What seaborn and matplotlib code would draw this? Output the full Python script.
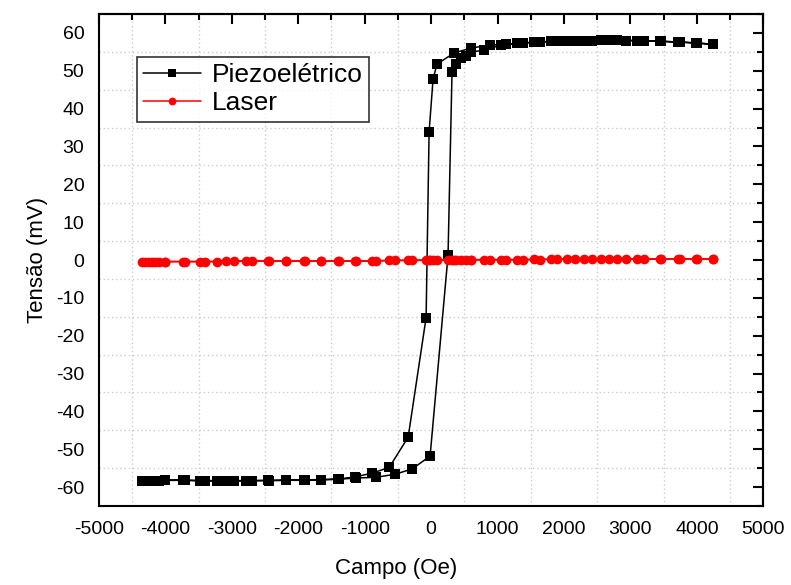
import numpy as np
import pandas as pd
import matplotlib
matplotlib.use("Agg")
import matplotlib.pyplot as plt
from matplotlib.ticker import MultipleLocator
import seaborn as sns

# Field (Oe), descending branch then ascending branch
campo_desc = [4250, 3980, 3720, 3460, 3200, 2940, 2680, 2420, 2160, 1900,
              1640, 1380, 1120, 885, 600, 345, 90, 30, -30, -75,
              -345, -630, -885, -1140, -1400, -1660, -1920, -2180, -2440, -2700,
              -2960, -3220, -3480, -3740, -4000, -4150, -4250, -4350]
piezo_desc = [57.0, 57.4, 57.6, 57.8, 57.9, 58.0, 58.1, 58.0, 57.9, 57.8,
              57.6, 57.3, 57.0, 56.8, 56.0, 54.7, 51.8, 47.9, 33.9, -15.2,
              -46.8, -54.8, -56.3, -57.3, -57.9, -58.1, -58.2, -58.2, -58.3, -58.3,
              -58.3, -58.3, -58.3, -58.2, -58.2, -58.3, -58.3, -58.3]

campo_asc = [-4300, -4200, -4100, -4000, -3700, -3400, -3080, -2780, -2460, -2180,
             -1905, -1650, -1380, -1125, -825, -540, -285, -15, 255, 315,
             375, 450, 525, 600, 795, 1050, 1300, 1550, 1800, 2050,
             2300, 2550, 2800, 3100, 3450, 3750, 4000, 4250]
piezo_asc = [-58.3, -58.3, -58.3, -58.2, -58.2, -58.3, -58.3, -58.3, -58.2, -58.2,
             -58.1, -58.0, -57.9, -57.6, -57.4, -56.6, -55.2, -51.8, 1.2, 49.7,
             51.8, 53.4, 53.9, 55.0, 55.4, 56.8, 57.3, 57.6, 57.8, 57.9,
             58.0, 58.1, 58.1, 58.0, 57.8, 57.6, 57.3, 57.0]

laser_desc = [0.3, 0.3, 0.3, 0.3, 0.2, 0.2, 0.2, 0.2, 0.2, 0.2,
              0.1, 0.1, 0.1, 0.1, 0.1, 0.1, 0.0, 0.0, 0.0, -0.1,
              -0.1, -0.1, -0.2, -0.2, -0.2, -0.2, -0.3, -0.3, -0.3, -0.3,
              -0.3, -0.4, -0.4, -0.4, -0.4, -0.4, -0.4, -0.4]
laser_asc = [-0.4, -0.4, -0.4, -0.4, -0.4, -0.4, -0.3, -0.3, -0.3, -0.3,
             -0.3, -0.2, -0.2, -0.2, -0.2, -0.1, -0.1, 0.0, 0.1, 0.1,
             0.1, 0.1, 0.1, 0.1, 0.1, 0.1, 0.1, 0.2, 0.2, 0.2,
             0.2, 0.2, 0.2, 0.3, 0.3, 0.3, 0.3, 0.3]

df = pd.DataFrame({
    "campo": campo_desc + campo_asc,
    "piezo": piezo_desc + piezo_asc,
    "laser": laser_desc + laser_asc,
})

sns.set_style("white")
plt.rcParams["font.family"] = ["Liberation Sans", "DejaVu Sans"]
plt.rcParams["axes.unicode_minus"] = False
plt.rcParams["text.color"] = "black"
plt.rcParams["axes.labelcolor"] = "black"
plt.rcParams["xtick.color"] = "black"
plt.rcParams["ytick.color"] = "black"

fig = plt.figure(figsize=(7.91, 5.85), dpi=100)
ax = fig.add_axes([0.125, 0.135, 0.84, 0.841])

sns.lineplot(data=df, x="campo", y="piezo", sort=False, estimator=None,
             color="black", marker="s", markersize=7, markeredgewidth=0,
             linewidth=1.1, label="Piezoelétrico", ax=ax)
sns.lineplot(data=df, x="campo", y="laser", sort=False, estimator=None,
             color="red", marker="o", markersize=7, markeredgewidth=0,
             linewidth=1.1, label="Laser", ax=ax)

ax.set_xlim(-5000, 5000)
ax.set_ylim(-65, 65)
ax.xaxis.set_major_locator(MultipleLocator(1000))
ax.xaxis.set_minor_locator(MultipleLocator(500))
ax.yaxis.set_major_locator(MultipleLocator(10))
ax.yaxis.set_minor_locator(MultipleLocator(5))

# Dotted grid sits on the minor tick positions
for v in np.arange(-4500, 5000, 1000):
    ax.axvline(v, color="#cccccc", linestyle=(0, (1, 2)), linewidth=1, zorder=0)
for v in np.arange(-55, 65, 10):
    ax.axhline(v, color="#cccccc", linestyle=(0, (1, 2)), linewidth=1, zorder=0)

for s in ax.spines.values():
    s.set_linewidth(1.5)
    s.set_color("black")

ax.tick_params(which="both", direction="out", top=False, right=False,
               labelsize=14, width=1.5, colors="black")
ax.tick_params(which="major", length=7)
ax.tick_params(which="minor", length=4)
ax2 = ax.secondary_xaxis("top")
ax2.xaxis.set_major_locator(MultipleLocator(1000))
ax2.xaxis.set_minor_locator(MultipleLocator(500))
ax2.tick_params(which="both", direction="in", labeltop=False, width=1.5)
ax2.tick_params(which="major", length=7)
ax2.tick_params(which="minor", length=4)
ax2.spines["top"].set_linewidth(1.5)
ay2 = ax.secondary_yaxis("right")
ay2.yaxis.set_major_locator(MultipleLocator(10))
ay2.yaxis.set_minor_locator(MultipleLocator(5))
ay2.tick_params(which="both", direction="in", labelright=False, width=1.5)
ay2.tick_params(which="major", length=7)
ay2.tick_params(which="minor", length=4)
ay2.spines["right"].set_linewidth(1.5)

ax.set_xlabel("Campo (Oe)", fontsize=16)
ax.xaxis.set_label_coords(0.447, -0.105)
ax.set_ylabel("Tensão (mV)", fontsize=16, labelpad=6)

leg = ax.legend(loc="upper left", bbox_to_anchor=(0.057, 0.913), fontsize=19,
                frameon=True, fancybox=False, handlelength=2.2,
                borderpad=0.25, labelspacing=0.15, handletextpad=0.4,
                borderaxespad=0, markerscale=0.8)
leg.get_frame().set_edgecolor("black")
leg.get_frame().set_linewidth(1.2)

fig.savefig("out.png", dpi=100)
